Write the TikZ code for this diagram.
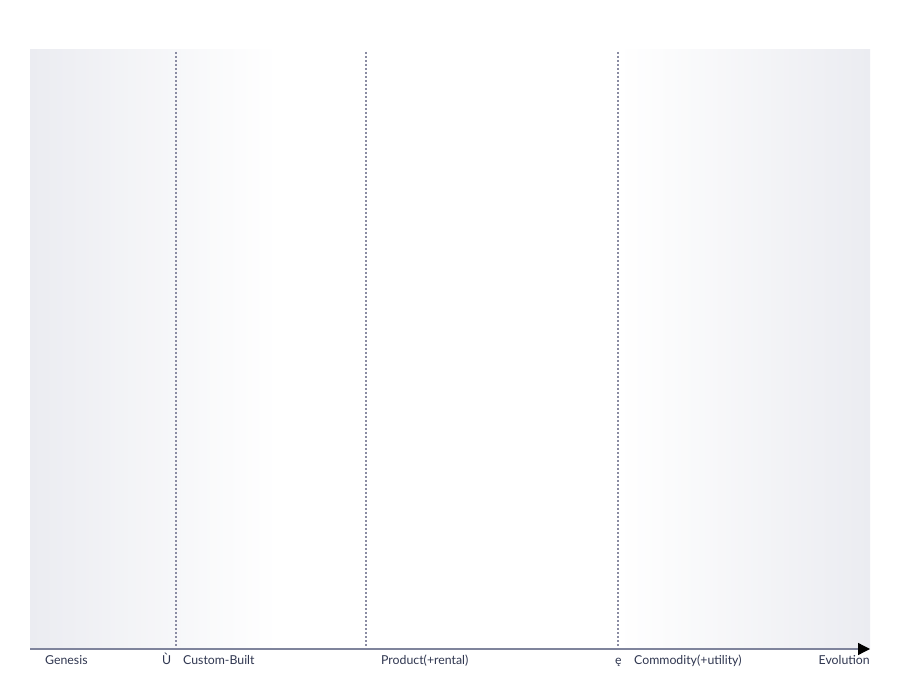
\documentclass[tikz,border=0pt]{standalone}
\usepackage{fontspec}
\setmainfont{Lato}
\usetikzlibrary{arrows.meta}
\definecolor{shadecol}{HTML}{EBECF1}
\definecolor{dotcol}{HTML}{8A8CA3}
\definecolor{axiscol}{HTML}{7F849C}
\definecolor{labcol}{HTML}{2F3650}
\tikzset{
  divider/.style={draw=dotcol, line width=1.6pt, dash pattern=on 2pt off 2pt},
  axislabel/.style={text=labcol, font=\fontsize{12.3}{14}\selectfont, inner sep=0pt, anchor=base west},
}
\begin{document}
\begin{tikzpicture}[x=1pt,y=-1pt]
\useasboundingbox (0,0) rectangle (900,700);
\fill[white] (0,0) rectangle (900,700);
% backgrounds
\shade[left color=shadecol, right color=white] (30,50) rectangle (278,649);
\shade[left color=white, right color=shadecol] (618,50) rectangle (870,649);
% dividers
\coordinate (d1t) at (176,52); \coordinate (d1b) at (176,648);
\coordinate (d2t) at (366,52); \coordinate (d2b) at (366,648);
\coordinate (d3t) at (618,52); \coordinate (d3b) at (618,648);
\draw[divider] (d1t) -- (d1b);
\draw[divider] (d2t) -- (d2b);
\draw[divider] (d3t) -- (d3b);
% axis
\coordinate (ax0) at (30,649);
\coordinate (ax1) at (870,649);
\draw[axiscol, line width=1.3pt, -{Triangle[length=12pt,width=12pt,color=black]}] (ax0) -- (ax1);
% labels
\node[axislabel] (genesis) at (45,664) {Genesis};
\node[axislabel] (mark1) at (162,664) {Ù};
\node[axislabel] (custom) at (183,664) {Custom-Built};
\node[axislabel] (product) at (381,664) {Product(+rental)};
\node[axislabel] (mark2) at (615,664) {ę};
\node[axislabel] (commodity) at (634,664) {Commodity(+utility)};
\node[axislabel, anchor=base east] (evolution) at (870,664) {Evolution};
\end{tikzpicture}
\end{document}
